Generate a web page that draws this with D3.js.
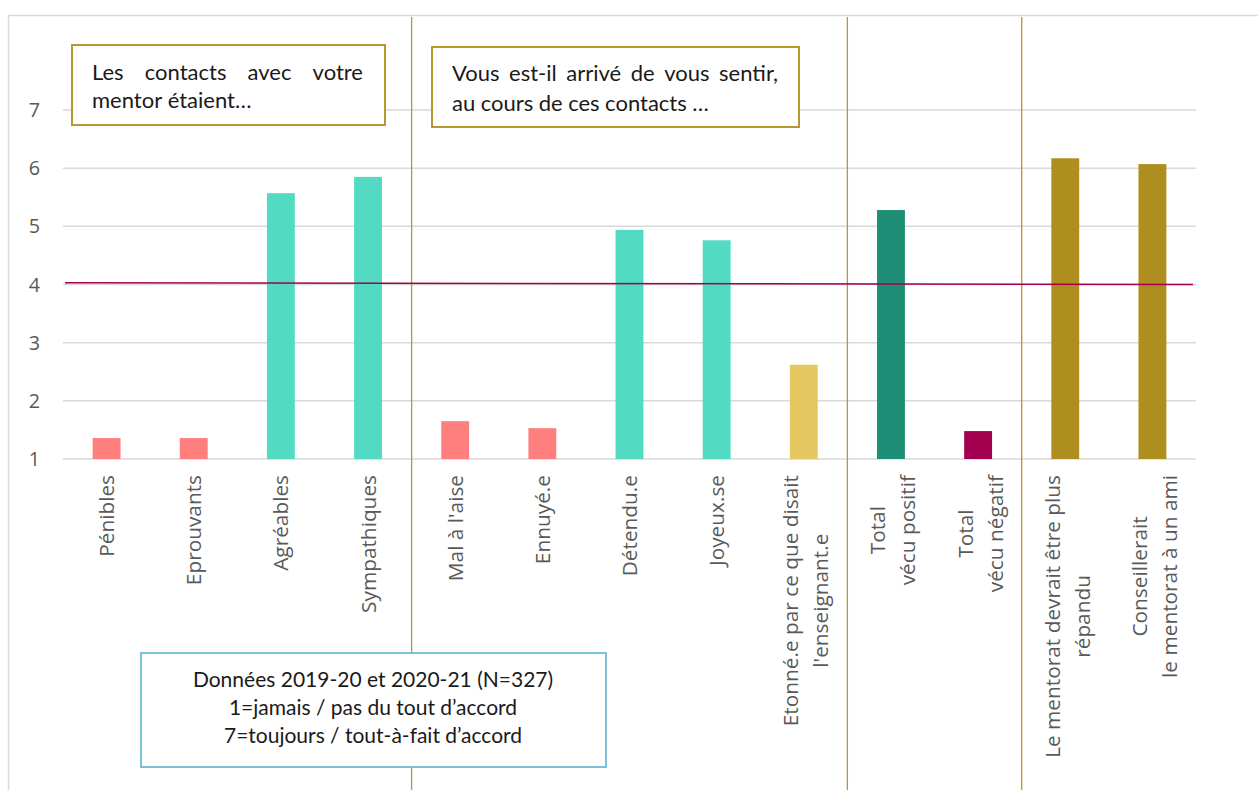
<!DOCTYPE html>
<html><head><meta charset="utf-8">
<script src="https://cdn.jsdelivr.net/npm/d3@7"></script>
<style>body{margin:0;background:#fff}</style>
</head><body>
<svg id="c" width="1258" height="790"></svg>
<script>
const categories = ["Pénibles","Eprouvants","Agréables","Sympathiques","Mal à l'aise","Ennuyé.e","Détendu.e","Joyeux.se","Etonné.e par ce que disait\nl'enseignant.e","Total\nvécu positif","Total\nvécu négatif","Le mentorat devrait être plus\nrépandu","Conseillerait\nle mentorat à un ami"];
const values = [1.36,1.36,5.57,5.85,1.65,1.53,4.94,4.76,2.62,5.28,1.48,6.17,6.07];
const colorGroups = ["neg","neg","pos","pos","neg","neg","pos","pos","surp","totpos","totneg","gold","gold"];
const groupColors = {neg:"#FF7F7F",pos:"#52DBC2",surp:"#E6C862",totpos:"#1E8E76",totneg:"#A3004F",gold:"#AE8E1E"};
const yTicks = [1,2,3,4,5,6,7];
const averageLine = [4.03, 4.0];
const separatorsBefore = ["Mal à l'aise","Total\nvécu positif","Le mentorat devrait être plus\nrépandu"];
const box1Lines = ["Les contacts avec votre","mentor étaient…"];
const box2Lines = ["Vous est-il arrivé de vous sentir,","au cours de ces contacts …"];
const noteLines = ["Données 2019-20 et 2020-21 (N=327)","1=jamais / pas du tout d’accord","7=toujours / tout-à-fait d’accord"];

const svg = d3.select("#c");
const x = d3.scaleBand().domain(categories).range([63,1196]).paddingInner(0.68).paddingOuter(0.34);
const y = d3.scaleLinear().domain([1,7]).range([459,110]);
const labelFont = "'Open Sans', 'Noto Sans', sans-serif";
const boxFont = "Lato, sans-serif";

// calibrate label font size so the longest label matches the reference length
const probe = svg.append("text").attr("font-family",labelFont).attr("font-size",20).text("Le mentorat devrait être plus");
const labelSize = 20*283/probe.node().getComputedTextLength();
probe.remove();

// outer border
svg.append("rect").attr("x",8.5).attr("y",15.5).attr("width",1300).attr("height",800)
  .attr("fill","none").attr("stroke","#D9D9D9").attr("stroke-width",1.5);

// gridlines
svg.append("g").selectAll("line").data(yTicks).join("line")
  .attr("x1",63).attr("x2",1196).attr("y1",d=>y(d)).attr("y2",d=>y(d))
  .attr("stroke","#D9D9D9").attr("stroke-width",1.5);

// y tick labels
svg.append("g").selectAll("text").data(yTicks).join("text")
  .attr("x",40).attr("y",d=>y(d)).attr("dy","0.36em").attr("text-anchor","end")
  .attr("font-family",labelFont).attr("font-size",labelSize*0.95).attr("fill","#595959").text(d=>d);

// bars
svg.append("g").selectAll("rect").data(categories).join("rect")
  .attr("x",d=>x(d)).attr("width",x.bandwidth())
  .attr("y",(d,i)=>y(values[i])).attr("height",(d,i)=>y(1)-y(values[i]))
  .attr("fill",(d,i)=>groupColors[colorGroups[i]]);

// separators
svg.append("g").selectAll("line").data(separatorsBefore).join("line")
  .attr("x1",d=>x(d)-x.step()*x.paddingInner()/2).attr("x2",d=>x(d)-x.step()*x.paddingInner()/2)
  .attr("y1",17).attr("y2",790).attr("stroke","#B8972C").attr("stroke-width",1.3);

// average line
svg.append("line").attr("x1",65).attr("x2",1193)
  .attr("y1",y(averageLine[0])).attr("y2",y(averageLine[1]))
  .attr("stroke","#A3004F").attr("stroke-width",1.5);

// category labels
const lineH = 30;
categories.forEach((c,i)=>{
  const lines = c.split("\n");
  const cx = x(c)+x.bandwidth()/2 + (lines.length>1?2:0);
  const g = svg.append("g").attr("transform",`translate(${cx},475) rotate(-90)`);
  const ts = lines.map((l,j)=>g.append("text").attr("font-family",labelFont).attr("font-size",labelSize)
    .attr("fill","#595959").attr("text-anchor","middle").attr("dy","0.36em")
    .attr("y",(j-(lines.length-1)/2)*lineH).text(l));
  const L = d3.max(ts,t=>t.node().getComputedTextLength());
  ts.forEach(t=>t.attr("x",-L/2));
});

// annotation boxes
function justifiedBox(bx,by,bw,bh,stroke,lines,tx,tw,ly,fs){
  svg.append("rect").attr("x",bx).attr("y",by).attr("width",bw).attr("height",bh)
    .attr("fill","#fff").attr("stroke",stroke).attr("stroke-width",2);
  lines.forEach((l,j)=>{
    const words = l.split(" ");
    const justify = j < lines.length-1;
    const temp = words.map(w=>svg.append("text").attr("font-family",boxFont).attr("font-size",fs).attr("fill","#1a1a1a").text(w));
    const widths = temp.map(t=>t.node().getComputedTextLength());
    const total = d3.sum(widths);
    const gap = justify ? (tw-total)/(words.length-1) : fs*0.25;
    let cx = tx;
    temp.forEach((t,k)=>{ t.attr("x",cx).attr("y",ly[j]); cx += widths[k]+gap; });
  });
}
justifiedBox(72,45,313,80,"#B8972C",box1Lines,92,271,[80,108],22);
justifiedBox(432,47,367,80,"#B8972C",box2Lines,452,326,[81,111],22);

// note box
svg.append("rect").attr("x",141).attr("y",653).attr("width",465).attr("height",114)
  .attr("fill","#fff").attr("stroke","#7EC0D4").attr("stroke-width",2);
svg.append("g").selectAll("text").data(noteLines).join("text")
  .attr("x",373).attr("y",(d,i)=>687+i*28).attr("text-anchor","middle")
  .attr("font-family",boxFont).attr("font-size",21).attr("fill","#1a1a1a").text(d=>d);
</script>
</body></html>
